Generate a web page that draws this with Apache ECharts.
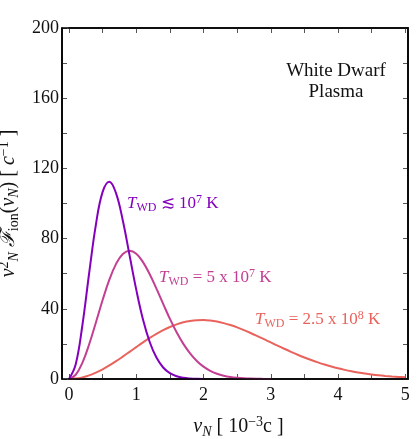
<!DOCTYPE html>
<html>
<head>
<meta charset="utf-8">
<script src="https://cdn.jsdelivr.net/npm/echarts@6/dist/echarts.min.js"></script>
<style>
html,body{margin:0;padding:0;background:#fff;}
#chart{width:419px;height:439px;}
</style>
</head>
<body>
<div id="chart"></div>
<script>
// velocity grid (10^-3 c)
var vGrid = [0,0.1,0.2,0.3,0.4,0.5,0.6,0.7,0.8,0.9,1.0,1.1,1.2,1.3,1.4,1.5,1.6,1.7,1.8,1.9,2.0,
  2.1,2.2,2.3,2.4,2.5,2.6,2.7,2.8,2.9,3.0,3.1,3.2,3.3,3.4,3.5,3.6,3.7,3.8,3.9,4.0,
  4.1,4.2,4.3,4.4,4.5,4.6,4.7,4.8,4.9,5.0];
// T_WD <~ 1e7 K
var fCold = [0,8.4,30.9,60.4,88.0,106.6,112.4,105.8,90.3,70.6,50.9,33.9,21.1,12.2,6.56,3.31,1.57,0.69,0.29,0.11,0.04];
// T_WD = 5e7 K
var fMid = [0,2.42,9.34,19.8,32.2,45.0,56.6,65.6,71.2,73.1,71.4,66.6,59.7,51.5,42.8,34.3,26.6,20.0,14.6,10.3,7.04,
  4.67,3.02,1.89,1.15,0.68,0.39,0.22,0.12,0.06,0.03];
// T_WD = 2.5e8 K
var fHot = [0,0.24,0.93,2.07,3.61,5.52,7.72,10.16,12.77,15.47,18.19,20.85,23.38,25.73,27.84,29.65,31.15,32.30,33.09,33.51,33.58,
  33.31,32.73,31.85,30.73,29.39,27.87,26.22,24.47,22.67,20.83,19.01,17.22,15.49,13.83,12.27,10.82,9.47,8.23,7.11,6.10,
  5.20,4.41,3.71,3.10,2.58,2.13,1.75,1.43,1.16,0.94];
var xMin = 0, xMax = 5.04, xStep = 1;
var yMin = 0, yMax = 200, yStep = 40;

function pairs(f){ return f.map(function(y,i){ return [vGrid[i], y]; }); }

var serif = 'Liberation Serif';
var cPurple = '#8400bc', cMag = '#c23f92', cSal = '#e9635c';

var chart = echarts.init(document.getElementById('chart'));

var nameRich = {
  v:{fontFamily:serif, fontStyle:'italic', fontSize:20, color:'#111', lineHeight:24, verticalAlign:'middle'},
  f:{fontFamily:serif, fontStyle:'italic', fontSize:20, color:'#111', lineHeight:24, verticalAlign:'middle'},
  s:{fontFamily:serif, fontStyle:'italic', fontSize:14, color:'#111', verticalAlign:'bottom', lineHeight:24},
  r:{fontFamily:serif, fontSize:14, color:'#111', verticalAlign:'bottom', lineHeight:24},
  t:{fontFamily:serif, fontSize:20, color:'#111', lineHeight:24, verticalAlign:'middle'},
  p:{fontFamily:serif, fontSize:14, color:'#111', verticalAlign:'top', lineHeight:24}
};
var tickStyle = {color:'#555', width:1};
var lineStyleAx = {color:'#000', width:1.6};

function xAx(pos, main){
  return {
    type:'value', position:pos, min:xMin, max:xMax, interval:xStep,
    axisLine:{show:true, onZero:false, lineStyle:lineStyleAx},
    splitLine:{show:false},
    axisTick:{show:true, inside:true, length:5, lineStyle:tickStyle},
    minorTick:{show:true, splitNumber:2, length:5, lineStyle:tickStyle},
    axisLabel:{show:main, margin:7, color:'#111', fontFamily:serif, fontSize:18, showMaxLabel:false},
    name: main ? '{v|v}{s|N}{t| [ 10}{p|−3}{t|c ]}' : '',
    nameLocation:'middle', nameGap:36,
    nameTextStyle:{ rich:nameRich }
  };
}
function yAx(pos, main){
  return {
    type:'value', position:pos, min:yMin, max:yMax, interval:yStep, offset: main ? 7 : 0,
    axisLine:{show:true, onZero:false, lineStyle:lineStyleAx},
    splitLine:{show:false},
    axisTick:{show:true, inside:true, length:5, lineStyle:tickStyle},
    minorTick:{show:true, splitNumber:2, length:5, lineStyle:tickStyle},
    axisLabel:{show:main, margin:3, color:'#111', fontFamily:serif, fontSize:18},
    name: main ? '{v|v}{p|2}{s|N}{f| ℱ}{r|ion}{t|(}{v|v}{s|N}{t|) [ }{v|c}{p|−1}{t| ]}' : '',
    nameLocation:'middle', nameGap:34, nameRotate:90,
    nameTextStyle:{ rich:nameRich }
  };
}

function annRich(col){
  return {
    T:{fontFamily:serif, fontStyle:'italic', fontSize:17, fill:col, lineHeight:20, verticalAlign:'middle'},
    s:{fontFamily:serif, fontSize:12, fill:col, verticalAlign:'bottom', lineHeight:20},
    t:{fontFamily:serif, fontSize:17, fill:col, lineHeight:20, verticalAlign:'middle'},
    p:{fontFamily:serif, fontSize:12, fill:col, verticalAlign:'top', lineHeight:20}
  };
}

chart.setOption({
  animation:false,
  backgroundColor:'#fff',
  grid:{left:69, right:11, top:28, bottom:60, outerBoundsMode:'none', containLabel:false, show:false},
  xAxis:[xAx('bottom', true), xAx('top', false)],
  yAxis:[yAx('left', true), yAx('right', false)],
  series:[
    {type:'line', data:pairs(fHot), smooth:0.4, showSymbol:false, lineStyle:{color:cSal, width:2}, z:2},
    {type:'line', data:pairs(fMid), smooth:0.4, showSymbol:false, lineStyle:{color:cMag, width:2}, z:3},
    {type:'line', data:pairs(fCold), smooth:0.4, showSymbol:false, lineStyle:{color:cPurple, width:2}, z:4}
  ],
  graphic:[
    {type:'rect', shape:{x:62, y:28, width:346, height:351}, style:{fill:null, stroke:'#000', lineWidth:1.6}, z:10},
    {type:'text', left:127, top:194, style:{text:'{T|T}{s|WD}{t| ≲ 10}{p|7}{t| K}', rich:annRich(cPurple)}},
    {type:'text', left:159, top:268, style:{text:'{T|T}{s|WD}{t| = 5 x 10}{p|7}{t| K}', rich:annRich(cMag)}},
    {type:'text', left:255, top:310, style:{text:'{T|T}{s|WD}{t| = 2.5 x 10}{p|8}{t| K}', rich:annRich(cSal)}},
    {type:'text', x:336, y:61, style:{text:'White Dwarf\nPlasma', fontFamily:serif, fontSize:19, fill:'#111', align:'center', verticalAlign:'top', lineHeight:21}}
  ]
});
</script>
</body>
</html>
